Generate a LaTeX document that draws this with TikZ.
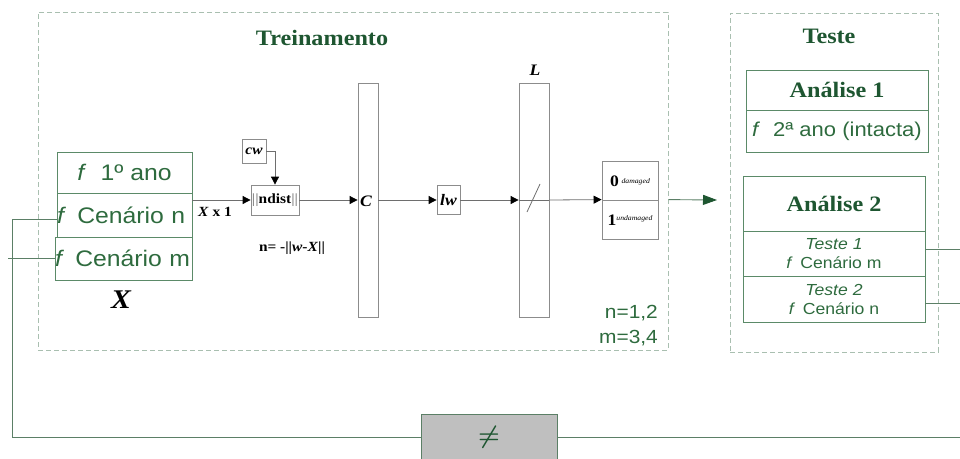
\documentclass[tikz,border=0pt]{standalone}
\usepackage{fontspec}
\setmainfont{Liberation Serif}[FakeStretch=1.1]
\setsansfont{Liberation Sans}[FakeStretch=1.1]
\usetikzlibrary{arrows.meta,calc}
\definecolor{dg}{HTML}{1E5631}
\definecolor{tg}{HTML}{2E6B3E}
\definecolor{bg}{HTML}{5B8A68}
\definecolor{dsh}{HTML}{A9BFB0}
\definecolor{cg}{HTML}{5B7F66}
\definecolor{fl}{HTML}{6E6E6E}
\definecolor{bargray}{HTML}{8C8C8C}
\definecolor{neqfill}{HTML}{BFBFBF}
\tikzset{
  dashbox/.style={draw=dsh, line width=1pt, dash pattern=on 5pt off 3pt, inner sep=0pt},
  gbox/.style={draw=bg, line width=0.9pt, inner sep=0pt, text=tg},
  gray box/.style={draw=bargray, line width=0.8pt, inner sep=0pt},
  flow/.style={draw=fl, line width=0.8pt, -{Triangle[length=8pt,width=8pt,color=black,fill=black]}},
  flowline/.style={draw=fl, line width=0.8pt},
  conn/.style={draw=cg, line width=0.9pt},
  garrow/.style={draw=cg, line width=0.9pt, -{Triangle[length=14pt,width=10pt,color=dg,fill=dg]}},
  title/.style={font=\fontsize{22}{26}\selectfont\bfseries, text=dg, inner sep=0pt},
  sans22/.style={font=\fontsize{22.5}{26}\selectfont\sffamily},
  leftrow/.style={text width=135pt, align=left, inner xsep=0pt},
  sans16/.style={font=\fontsize{16}{19}\selectfont\sffamily, align=center},
  small/.style={font=\fontsize{14}{16}\selectfont\bfseries, inner sep=0pt},
}
\begin{document}
\begin{tikzpicture}[x=1pt, y=-1pt]
\path[use as bounding box] (0,0) rectangle (960,458);

% dashed frames
\node[dashbox, minimum width=630pt, minimum height=338pt] (train) at (353,181) {};
\node[dashbox, minimum width=208pt, minimum height=339pt] (teste) at (834,182.5) {};
\node[title] (ttrain) at (322,38) {Treinamento};
\node[title] (tteste) at (829,36) {Teste};

% input stack
\node[gbox, sans22, minimum width=135pt, minimum height=41pt] (r1) at (124.5,172.5) {\textit{f}\,\, 1º ano};
\node[gbox, sans22, leftrow, minimum width=135pt, minimum height=44pt] (r2) at (124.5,215) {\textit{f}\, Cenário n};
\node[gbox, sans22, leftrow, text width=137pt, minimum width=137pt, minimum height=43pt] (r3) at (123.5,258.5) {\textit{f}\, Cenário m};
\node[font=\fontsize{27}{30}\selectfont\bfseries\itshape, inner sep=0pt] (xlab) at (121,300) {X};

% network
\node[gray box, small, minimum width=48pt, minimum height=30pt] (ndist) at (275,200) {\textcolor{bargray}{||}ndist\textcolor{bargray}{||}};
\node[gray box, small, minimum width=24pt, minimum height=24pt] (cw) at (254,151) {\itshape cw};
\node[small] (xx1) at (215,212) {\textit{X} x 1};
\node[small] (nform) at (292,248) {n= -||\textit{w}-\textit{X}||};
\node[gray box, minimum width=20pt, minimum height=234pt] (cbar) at (368,200) {};
\node[font=\fontsize{16}{18}\selectfont\bfseries\itshape, inner sep=0pt] (clab) at (366,201) {C};
\node[gray box, font=\fontsize{16}{18}\selectfont\bfseries\itshape, minimum width=23pt, minimum height=29pt] (lw) at (448.5,200) {lw};
\node[gray box, minimum width=30pt, minimum height=234pt] (lbar) at (534,200) {};
\node[font=\fontsize{16}{18}\selectfont\bfseries\itshape, inner sep=0pt] (llab) at (535,70) {L};
\node[gray box, minimum width=56pt, minimum height=39pt] (o0) at (630,180.5) {};
\node[gray box, minimum width=56pt, minimum height=39pt] (o1) at (630,219.5) {};
\node[inner sep=0pt] (o0t) at (630,181) {\fontsize{16}{18}\selectfont\bfseries 0\,\raisebox{3pt}{\fontsize{7}{8}\selectfont\mdseries\itshape damaged}};
\node[inner sep=0pt] (o1t) at (630,220) {\fontsize{16}{18}\selectfont\bfseries 1\raisebox{5pt}{\fontsize{7}{8}\selectfont\mdseries\itshape undamaged}};

\draw[flow] (r2.east |- ndist.west) -- (ndist.west);
\draw[flow] (cw.east) -| (ndist.north);
\draw[flow] (ndist.east) -- (ndist.east -| cbar.west);
\draw[flow] (cbar.east |- lw.west) -- (lw.west);
\draw[flow] (lw.east) -- (lw.east -| lbar.west);
\draw[flowline] (lbar.west) -- (lbar.east);
\draw[flowline] ($(lbar.center)+(-7,12)$) -- ($(lbar.center)+(6,-16)$);
\draw[flow] (lbar.east) -- (o1.north west);

\node[font=\fontsize{19}{22}\selectfont\sffamily, text=tg, anchor=east, inner sep=0pt] (nval) at (658,313) {n=1,2};
\node[font=\fontsize{19}{22}\selectfont\sffamily, text=tg, anchor=east, inner sep=0pt] (mval) at (658,338) {m=3,4};

% arrow to test
\coordinate (gend) at (717,200);
\draw[garrow] (train.east |- o1.north) -- (gend);

% test boxes
\node[gbox, title, minimum width=182pt, minimum height=40pt] (a1h) at (837,90) {Análise 1};
\node[gbox, font=\fontsize{20}{24}\selectfont\sffamily, minimum width=182pt, minimum height=42pt] (a1b) at (837,131) {\textit{f}\,\, 2ª ano (intacta)};
\node[gbox, title, minimum width=182pt, minimum height=55pt] (a2h) at (834,203.5) {Análise 2};
\node[gbox, sans16, minimum width=182pt, minimum height=45pt] (a2t1) at (834,253.5) {\textit{Teste 1}\\\textit{f}\, Cenário m};
\node[gbox, sans16, minimum width=182pt, minimum height=46pt] (a2t2) at (834,299) {\textit{Teste 2}\\\textit{f}\, Cenário n};

% comparison
\node[draw=cg, fill=neqfill, line width=0.9pt, minimum width=136pt, minimum height=46pt, text=dg, font=\fontsize{30}{32}\selectfont\boldmath, inner sep=0pt] (neq) at (489,437) {$\neq$};
\coordinate (l1) at (12,219);
\coordinate (l2) at (8,258);
\coordinate (e1) at (960,249);
\coordinate (e2) at (960,303);
\coordinate (e3) at (960,437);
\draw[conn] (r2.west |- l1) -- (l1) |- (neq.west);
\draw[conn] (l2) -- (r3.west |- l2);
\draw[conn] (neq.east) -- (e3);
\draw[conn] (a2t1.east |- e1) -- (e1);
\draw[conn] (a2t2.east |- e2) -- (e2);
\end{tikzpicture}
\end{document}
